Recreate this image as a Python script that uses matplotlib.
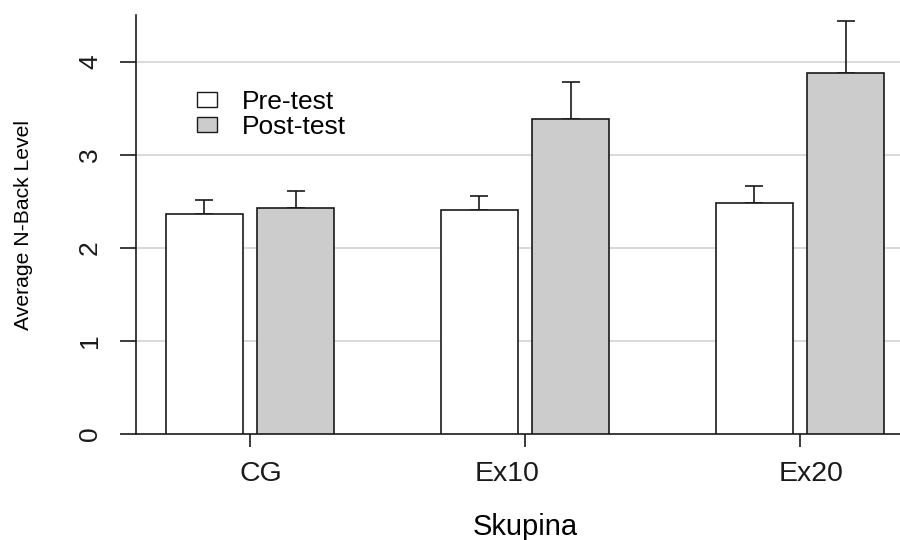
import numpy as np
import matplotlib.pyplot as plt
from matplotlib.patches import Patch

plt.rcParams['font.family'] = ['Liberation Sans', 'DejaVu Sans']

# group names and bar heights
groups = ["CG", "Ex10", "Ex20"]
pre_mean = [2.36, 2.41, 2.48]
pre_err = [0.15, 0.145, 0.18]
post_mean = [2.43, 3.38, 3.88]
post_err = [0.18, 0.40, 0.56]
yticks = [0, 1, 2, 3, 4]

fig = plt.figure(figsize=(9, 5.4), dpi=100)
ax = fig.add_axes([136 / 900, 106 / 540, 764 / 900, 419 / 540])

x = np.arange(1, len(groups) + 1)
w = 0.28
off = 0.167
ink = "#1a1a1a"

ax.bar(x - off, pre_mean, width=w, color="white", edgecolor=ink, linewidth=1.2, zorder=3)
ax.bar(x + off, post_mean, width=w, color="#cccccc", edgecolor=ink, linewidth=1.2, zorder=3)
ax.errorbar(x - off, pre_mean, yerr=[np.zeros(3), pre_err], fmt="none", ecolor=ink,
            elinewidth=1.2, capsize=6.2, capthick=1.2, zorder=2)
ax.errorbar(x + off, post_mean, yerr=[np.zeros(3), post_err], fmt="none", ecolor=ink,
            elinewidth=1.2, capsize=6.2, capthick=1.2, zorder=2)

for t in yticks[1:]:
    ax.axhline(t, color="#d3d3d3", linewidth=1.2, zorder=1)

ax.set_xlim(0.5855, 3.3636)
ax.set_ylim(0, 4.5)
ax.set_yticks(yticks)
ax.set_yticklabels([str(t) for t in yticks], rotation=90, va="center")

# tick marks sit at group centres, the names are a little off them (as in the original)
ax.set_xticks(x)
ax.set_xticklabels([])
ax.set_xticks(x + np.array([0.04, -0.065, 0.04]), minor=True)
ax.set_xticklabels(groups, minor=True)

ax.spines["top"].set_visible(False)
ax.spines["right"].set_visible(False)
for s in ["left", "bottom"]:
    ax.spines[s].set_linewidth(1.2)
    ax.spines[s].set_color(ink)

ax.tick_params(axis="y", length=11.5, width=1.2, pad=13, labelsize=19, colors=ink)
ax.tick_params(axis="x", which="major", length=9.4, width=1.2, colors=ink)
ax.tick_params(axis="x", which="minor", length=0, pad=19.5, labelsize=20.5, colors=ink)

ax.set_ylabel("Average N-Back Level", fontsize=15.2)
ax.yaxis.label.set_va("center")
ax.yaxis.set_label_coords(-0.1466, 0.5)
ax.set_xlabel("Skupina", fontsize=21)
ax.xaxis.label.set_va("baseline")
ax.xaxis.set_label_coords(0.509, -0.24)

handles = [Patch(facecolor="white", edgecolor=ink, linewidth=1),
           Patch(facecolor="#cccccc", edgecolor=ink, linewidth=1)]
ax.legend(handles, ["Pre-test", "Post-test"], loc="upper left", bbox_to_anchor=(0.08, 0.821),
          frameon=False, fontsize=19, handlelength=0.76, handleheight=0.49,
          handletextpad=0.95, labelspacing=0.02, borderpad=0, borderaxespad=0)

fig.savefig("out.png", dpi=100)
